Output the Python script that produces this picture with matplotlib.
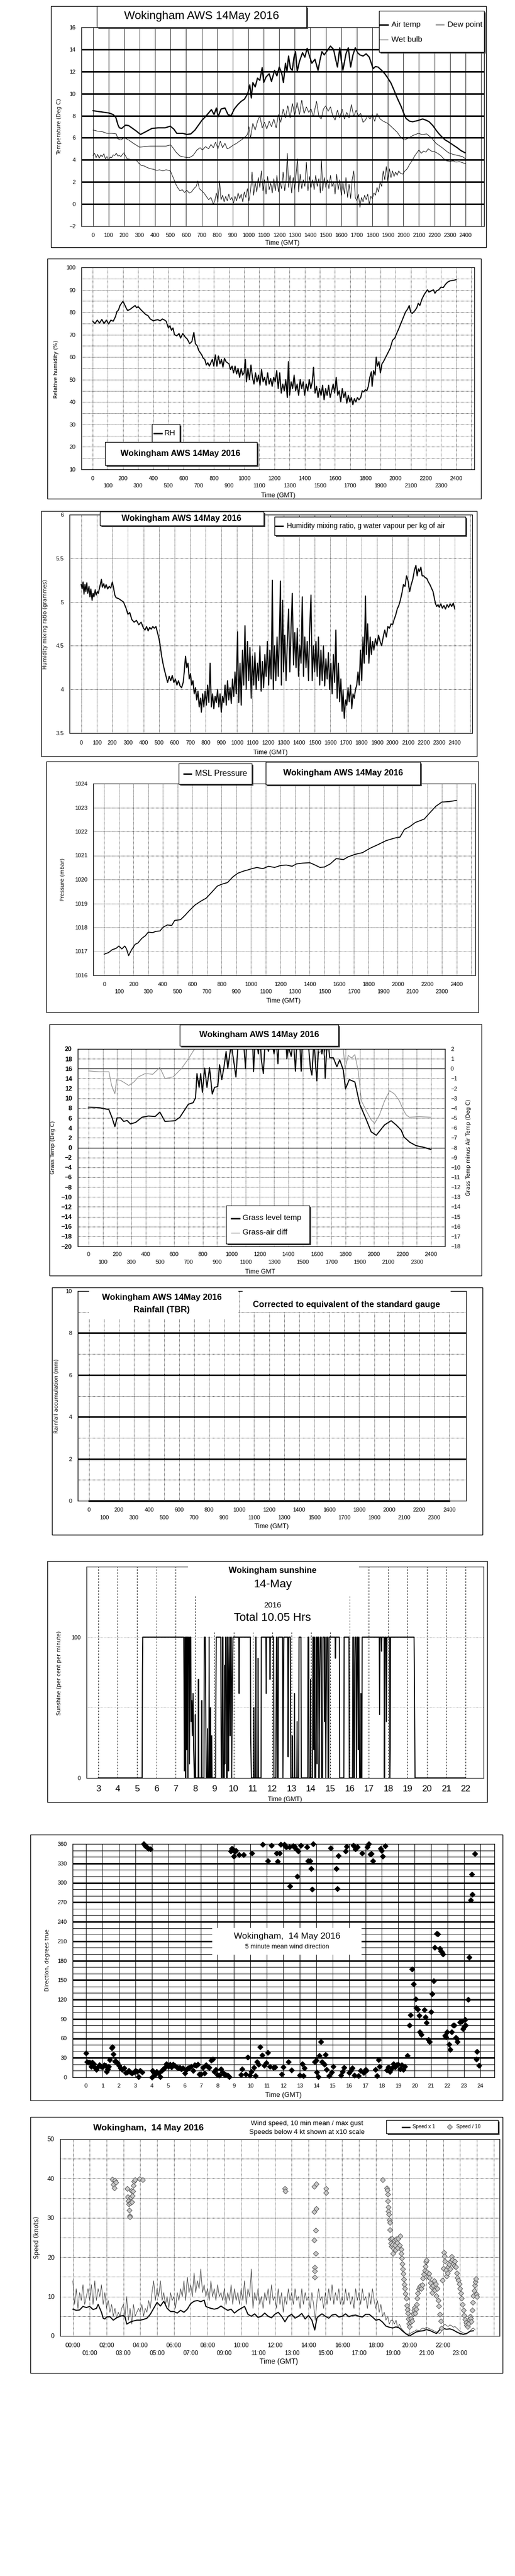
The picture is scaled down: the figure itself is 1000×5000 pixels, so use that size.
#!/usr/bin/env python3
"""Wokingham AWS daily charts, 14 May 2016 (nine stacked panels)."""

import numpy as np
import matplotlib.pyplot as plt
from matplotlib.patches import Rectangle
from matplotlib.lines import Line2D

plt.rcParams['font.family'] = ['Liberation Sans', 'DejaVu Sans']

# ---------------------------------------------------------------- data
# (hour, value) pairs
AIR_TEMP = [
    (0.0, 8.45), (0.5, 8.35), (1.04, 8.24), (1.3, 8.1), (1.47, 7.85), (1.6, 7.2), (1.7, 6.9),
    (1.85, 6.85), (2.1, 7.15), (2.3, 7.1), (2.5, 6.9), (2.8, 6.6), (3.06, 6.3), (3.4, 6.55),
    (3.8, 6.85), (4.2, 6.9), (4.65, 6.9), (4.97, 7.05), (5.2, 6.8), (5.4, 6.4), (5.8, 6.4),
    (6.04, 6.3), (6.3, 6.35), (6.57, 6.7), (7.0, 7.55), (7.3, 8.0), (7.63, 8.55), (7.8, 8.1),
    (7.95, 8.7), (8.06, 7.9), (8.25, 8.6), (8.5, 8.7), (8.7, 8.1), (8.9, 8.0), (9.1, 8.6),
    (9.33, 9.0), (9.55, 9.3), (9.76, 9.5), (9.97, 10.0), (10.1, 10.8), (10.2, 9.6), (10.3, 11.0),
    (10.45, 10.6), (10.6, 11.4), (10.75, 11.2), (10.9, 12.35), (11.0, 11.0), (11.15, 11.5),
    (11.35, 11.8), (11.5, 11.1), (11.7, 12.1), (11.85, 11.6), (12.0, 12.4), (12.15, 11.9),
    (12.27, 11.0), (12.4, 12.75), (12.5, 12.0), (12.6, 13.4), (12.72, 12.3), (12.84, 12.1),
    (12.95, 13.3), (13.05, 13.8), (13.16, 12.0), (13.3, 12.9), (13.5, 13.7), (13.65, 13.3),
    (13.8, 14.1), (13.95, 13.4), (14.1, 12.75), (14.3, 13.1), (14.5, 12.1), (14.62, 13.0),
    (14.75, 13.8), (14.9, 13.5), (15.1, 13.9), (15.3, 14.3), (15.5, 14.0), (15.62, 13.2),
    (15.75, 12.4), (15.9, 14.15), (16.0, 13.0), (16.1, 12.1), (16.3, 13.6), (16.45, 14.15),
    (16.6, 12.4), (16.75, 13.5), (16.9, 14.15), (17.05, 13.7), (17.2, 13.5), (17.4, 13.4),
    (17.6, 13.6), (17.8, 13.3), (18.05, 12.25), (18.2, 12.45), (18.37, 12.4), (18.6, 12.1),
    (18.8, 11.8), (19.0, 11.4), (19.2, 10.95), (19.4, 10.3), (19.54, 9.8), (19.7, 9.3),
    (19.85, 8.85), (20.0, 8.3), (20.17, 7.75), (20.4, 7.5), (20.6, 7.45), (20.9, 7.55),
    (21.24, 7.7), (21.45, 7.6), (21.66, 7.45), (21.9, 7.1), (22.1, 6.7), (22.3, 6.35),
    (22.5, 6.05), (22.7, 5.8), (22.94, 5.6), (23.2, 5.35), (23.47, 5.1), (23.7, 4.85), (23.96, 4.65),
]

WET_BULB = [
    (0.0, 6.7), (0.3, 6.6), (0.6, 6.55), (0.9, 6.4), (1.2, 6.4), (1.5, 6.35), (1.6, 5.9),
    (1.8, 5.8), (2.0, 6.0), (2.3, 5.8), (2.6, 5.5), (3.0, 5.15), (3.3, 5.2), (3.7, 5.25),
    (4.2, 5.25), (4.7, 5.25), (5.0, 5.35), (5.15, 5.1), (5.35, 4.7), (5.6, 4.35), (5.9, 4.25),
    (6.2, 4.2), (6.45, 4.4), (6.7, 4.9), (6.9, 5.1), (7.05, 4.9), (7.25, 5.2), (7.45, 5.0),
    (7.6, 5.4), (7.75, 5.1), (7.9, 5.6), (8.05, 5.0), (8.2, 5.7), (8.35, 5.1), (8.5, 5.5),
    (8.65, 5.0), (8.8, 5.1), (9.0, 5.3), (9.25, 5.5), (9.5, 5.75), (9.75, 6.0), (9.95, 6.3),
    (10.05, 7.0), (10.15, 6.0), (10.3, 7.3), (10.45, 6.7), (10.6, 7.5), (10.75, 8.0), (10.9, 6.9),
    (11.05, 7.4), (11.2, 6.8), (11.35, 7.5), (11.5, 7.0), (11.65, 7.7), (11.8, 6.9), (11.95, 8.1),
    (12.1, 7.4), (12.25, 8.6), (12.4, 7.8), (12.55, 8.9), (12.7, 7.8), (12.85, 9.1), (13.0, 8.0),
    (13.15, 9.2), (13.3, 8.1), (13.45, 9.4), (13.6, 8.2), (13.75, 8.8), (13.9, 8.3), (14.05, 8.6),
    (14.2, 7.9), (14.4, 9.3), (14.55, 8.0), (14.7, 7.7), (14.85, 8.6), (15.0, 8.9), (15.15, 8.4),
    (15.3, 8.8), (15.45, 8.0), (15.6, 7.6), (15.75, 8.5), (15.9, 7.8), (16.05, 8.6), (16.2, 7.7),
    (16.35, 8.3), (16.5, 7.8), (16.65, 9.0), (16.8, 7.9), (16.95, 8.5), (17.1, 8.0), (17.25, 8.2),
    (17.4, 7.4), (17.55, 7.6), (17.7, 8.0), (17.85, 7.7), (18.0, 8.1), (18.15, 7.5), (18.3, 8.2),
    (18.5, 7.7), (18.7, 7.5), (19.0, 7.3), (19.3, 6.9), (19.6, 6.5), (19.85, 6.0), (20.07, 5.8),
    (20.3, 5.95), (20.6, 6.2), (20.96, 6.4), (21.2, 6.3), (21.5, 6.35), (21.8, 6.0), (22.1, 5.5),
    (22.5, 5.1), (22.9, 4.65), (23.2, 4.5), (23.5, 4.4), (23.8, 4.3), (24.0, 4.1),
]

DEW_POINT = [
    (0.0, 4.4), (0.1, 4.6), (0.2, 4.2), (0.3, 4.5), (0.4, 4.15), (0.5, 4.45), (0.6, 4.3),
    (0.7, 4.55), (0.8, 4.1), (0.9, 4.3), (1.0, 4.0), (1.1, 4.25), (1.2, 4.2), (1.3, 4.45),
    (1.4, 4.4), (1.5, 4.6), (1.6, 4.35), (1.7, 4.4), (1.8, 4.3), (1.9, 4.5), (2.0, 4.65),
    (2.1, 4.35), (2.2, 4.1), (2.4, 4.05), (2.6, 4.0), (2.8, 3.95), (2.95, 3.7), (3.1, 3.5),
    (3.3, 3.45), (3.5, 3.3), (3.7, 3.2), (3.9, 3.15), (4.1, 3.05), (4.3, 3.1), (4.5, 3.0),
    (4.7, 3.1), (4.9, 3.05), (5.0, 2.95), (5.1, 2.6), (5.2, 2.3), (5.3, 1.9), (5.45, 1.5),
    (5.6, 1.2), (5.75, 1.3), (5.9, 1.05), (6.05, 1.25), (6.2, 1.0), (6.35, 1.1), (6.5, 1.4),
    (6.65, 1.6), (6.75, 2.1), (6.85, 1.4), (7.0, 1.2), (7.15, 1.0), (7.3, 0.7), (7.45, 0.4),
    (7.6, 0.6), (7.75, 0.0), (7.85, 0.3), (7.95, 1.0), (8.05, 0.2), (8.15, 2.1), (8.25, 0.4),
    (8.35, 0.8), (8.45, 0.2), (8.55, 0.7), (8.65, 0.3), (8.75, 0.9), (8.85, 0.4), (8.95, 0.6),
    (9.05, 0.1), (9.15, 0.7), (9.25, 0.3), (9.35, 1.0), (9.45, 0.5), (9.55, 0.9), (9.65, 0.2),
    (9.75, 1.1), (9.85, 0.6), (9.95, 1.4), (10.05, 0.3), (10.15, 1.2), (10.25, 2.9), (10.35, 0.8),
    (10.45, 2.0), (10.55, 1.1), (10.65, 2.4), (10.75, 1.5), (10.85, 3.0), (10.95, 1.2), (11.05, 2.2),
    (11.15, 0.9), (11.25, 2.5), (11.35, 1.3), (11.45, 1.9), (11.55, 1.0), (11.65, 2.3), (11.75, 1.2),
    (11.85, 2.6), (11.95, 1.1), (12.05, 2.0), (12.15, 1.4), (12.25, 2.9), (12.35, 1.2), (12.45, 2.2),
    (12.52, 4.6), (12.6, 1.5), (12.7, 2.6), (12.8, 1.0), (12.9, 2.4), (13.0, 1.3), (13.1, 3.0),
    (13.18, 4.1), (13.25, 1.1), (13.35, 2.7), (13.45, 1.4), (13.55, 2.2), (13.65, 1.6), (13.75, 3.8),
    (13.85, 1.2), (13.95, 2.5), (14.05, 1.5), (14.15, 2.2), (14.25, 1.3), (14.35, 2.6), (14.45, 1.6),
    (14.55, 2.3), (14.65, 1.0), (14.72, 4.0), (14.8, 1.2), (14.9, 2.4), (15.0, 1.5), (15.1, 2.2),
    (15.2, 1.4), (15.3, 2.6), (15.4, 1.6), (15.5, 2.0), (15.6, 0.9), (15.7, 2.7), (15.8, 1.3),
    (15.9, 2.2), (16.0, 0.8), (16.1, 2.0), (16.2, 0.9), (16.3, 2.4), (16.4, 0.6), (16.5, 1.8),
    (16.6, 0.5), (16.7, 2.2), (16.8, 3.0), (16.9, 0.6), (17.0, 0.3), (17.1, 0.9), (17.2, -0.3),
    (17.3, 0.6), (17.4, 0.2), (17.5, 0.8), (17.6, 0.4), (17.7, 0.9), (17.8, 0.0), (17.9, 0.7),
    (18.0, 0.5), (18.1, 1.0), (18.2, 0.8), (18.3, 1.5), (18.4, 1.1), (18.5, 2.0), (18.6, 1.6),
    (18.7, 3.0), (18.8, 2.2), (18.9, 3.4), (19.0, 2.0), (19.1, 3.2), (19.2, 2.4), (19.3, 3.0),
    (19.4, 2.5), (19.5, 2.9), (19.6, 2.6), (19.7, 3.0), (19.8, 2.8), (19.95, 2.7), (20.1, 3.0),
    (20.25, 3.2), (20.4, 3.6), (20.55, 3.9), (20.7, 4.3), (20.85, 4.6), (21.0, 4.9), (21.15, 4.6),
    (21.3, 4.8), (21.45, 4.7), (21.6, 5.0), (21.8, 4.8), (22.0, 4.75), (22.2, 4.6), (22.4, 4.4),
    (22.6, 4.1), (22.8, 3.9), (23.0, 3.85), (23.2, 3.9), (23.4, 3.8), (23.6, 3.85), (23.8, 3.75),
    (24.0, 3.65),
]

RH = [
    (0.0, 76), (0.15, 75), (0.3, 76.5), (0.45, 75.2), (0.6, 76.8), (0.75, 75), (0.9, 76.5),
    (1.05, 74.8), (1.2, 76.5), (1.35, 76), (1.5, 78), (1.6, 80.3), (1.7, 81), (1.8, 83),
    (1.9, 84), (2.0, 84.9), (2.1, 83.5), (2.2, 82), (2.3, 80.8), (2.45, 81.2), (2.6, 82),
    (2.8, 83), (2.9, 82), (3.0, 82.5), (3.2, 81), (3.35, 80), (3.5, 79), (3.65, 78.5),
    (3.8, 77), (4.0, 76.2), (4.15, 76.5), (4.3, 76.7), (4.45, 76.2), (4.6, 77), (4.75, 76.5),
    (4.85, 76), (5.0, 73), (5.1, 74), (5.2, 72), (5.3, 73), (5.4, 70), (5.55, 69.5), (5.7, 70.5),
    (5.8, 68.5), (5.95, 70.5), (6.1, 69), (6.25, 68), (6.4, 66), (6.55, 67), (6.68, 71),
    (6.78, 66), (6.9, 65), (7.0, 63), (7.1, 62), (7.2, 61), (7.3, 59.5), (7.4, 59), (7.5, 56.5),
    (7.6, 57.5), (7.7, 56), (7.8, 57.5), (7.9, 59), (8.0, 56), (8.1, 61), (8.2, 56), (8.3, 60.5),
    (8.4, 57), (8.5, 59), (8.6, 55.5), (8.7, 59.5), (8.8, 58), (8.9, 57.5), (9.0, 57),
    (9.1, 54.5), (9.2, 56), (9.3, 53), (9.4, 56), (9.5, 52.5), (9.6, 55), (9.7, 51),
    (9.8, 55), (9.9, 52), (10.0, 53), (10.08, 59), (10.15, 49), (10.25, 55), (10.35, 50),
    (10.45, 56.5), (10.55, 51), (10.65, 48), (10.75, 53), (10.85, 49), (10.95, 52),
    (11.05, 47.5), (11.15, 54.5), (11.25, 49), (11.35, 51), (11.45, 47.5), (11.55, 53),
    (11.65, 48), (11.75, 50.5), (11.85, 47), (11.95, 51), (12.05, 49), (12.15, 54),
    (12.25, 46), (12.35, 53), (12.45, 44), (12.55, 48), (12.65, 45), (12.75, 50), (12.85, 42),
    (12.92, 58), (13.0, 43), (13.1, 49), (13.2, 46), (13.3, 52), (13.4, 45), (13.5, 48),
    (13.6, 43), (13.7, 50), (13.8, 46), (13.9, 49), (14.0, 43), (14.1, 48), (14.2, 45),
    (14.3, 50), (14.4, 46), (14.5, 49), (14.58, 55.5), (14.68, 44), (14.78, 47), (14.88, 42),
    (14.98, 46), (15.08, 43), (15.18, 47.5), (15.28, 41), (15.38, 46), (15.48, 43),
    (15.58, 47.5), (15.68, 42), (15.78, 45), (15.88, 48), (15.98, 44), (16.08, 51),
    (16.18, 43), (16.28, 45), (16.38, 40), (16.48, 46), (16.58, 42), (16.68, 44.5),
    (16.78, 39.5), (16.88, 43), (16.98, 40), (17.08, 42), (17.18, 38.8), (17.28, 41.5),
    (17.38, 40), (17.48, 42), (17.58, 41), (17.7, 42), (17.8, 45), (17.9, 44.5), (18.0, 45.5),
    (18.1, 45), (18.2, 47), (18.3, 51), (18.4, 53.5), (18.45, 47), (18.55, 54), (18.65, 52),
    (18.72, 60), (18.8, 56), (18.9, 58), (19.0, 53), (19.1, 57), (19.2, 58), (19.35, 60),
    (19.5, 62), (19.65, 64), (19.8, 67.5), (19.95, 68.5), (20.1, 71), (20.2, 72.5), (20.35, 75),
    (20.5, 77.5), (20.65, 80), (20.8, 81.5), (20.9, 83), (21.0, 80), (21.1, 79.5), (21.25, 80.5),
    (21.4, 82), (21.5, 84), (21.6, 83), (21.75, 86), (21.9, 88), (22.0, 89), (22.1, 90),
    (22.2, 89), (22.35, 89.5), (22.5, 90), (22.6, 88.5), (22.7, 89.5), (22.85, 90),
    (23.0, 91.2), (23.15, 91), (23.3, 92.5), (23.45, 93.5), (23.6, 94), (23.8, 94.2), (24.0, 94.5),
]

MIXING = [
    (0.0, 5.2), (0.06, 5.15), (0.12, 5.23), (0.18, 5.09), (0.24, 5.2), (0.3, 5.12), (0.36, 5.22),
    (0.42, 5.1), (0.5, 5.18), (0.56, 5.06), (0.62, 5.15), (0.7, 5.02), (0.76, 5.1), (0.82, 5.06),
    (0.9, 5.14), (0.96, 5.08), (1.04, 5.12), (1.1, 5.1), (1.2, 5.18), (1.3, 5.26), (1.36, 5.17),
    (1.45, 5.21), (1.52, 5.16), (1.6, 5.2), (1.7, 5.15), (1.8, 5.18), (1.9, 5.16), (2.0, 5.23),
    (2.08, 5.16), (2.16, 5.08), (2.24, 5.05), (2.4, 5.04), (2.56, 5.02), (2.72, 5.0),
    (2.88, 4.93), (3.0, 4.86), (3.12, 4.88), (3.25, 4.8), (3.4, 4.77), (3.55, 4.79), (3.7, 4.74),
    (3.85, 4.77), (4.0, 4.7), (4.1, 4.68), (4.2, 4.72), (4.3, 4.67), (4.4, 4.71), (4.5, 4.69),
    (4.6, 4.72), (4.7, 4.7), (4.8, 4.72), (4.9, 4.65), (5.0, 4.58), (5.08, 4.5), (5.15, 4.4),
    (5.25, 4.3), (5.35, 4.22), (5.45, 4.15), (5.55, 4.08), (5.65, 4.15), (5.75, 4.1),
    (5.85, 4.16), (5.95, 4.08), (6.05, 4.12), (6.15, 4.05), (6.25, 4.1), (6.35, 4.04),
    (6.45, 4.02), (6.55, 4.08), (6.62, 4.2), (6.7, 4.38), (6.78, 4.25), (6.86, 4.3),
    (6.94, 4.12), (7.02, 4.18), (7.1, 4.05), (7.18, 4.1), (7.26, 3.95), (7.34, 4.02),
    (7.42, 3.88), (7.5, 3.98), (7.58, 3.8), (7.66, 3.9), (7.72, 3.74), (7.8, 3.95),
    (7.88, 3.8), (7.96, 3.98), (8.04, 3.82), (8.12, 4.05), (8.2, 3.85), (8.28, 4.3),
    (8.36, 3.8), (8.44, 3.95), (8.52, 3.78), (8.6, 3.92), (8.68, 3.85), (8.76, 4.0),
    (8.84, 3.8), (8.92, 3.95), (9.0, 3.74), (9.08, 3.92), (9.16, 3.85), (9.24, 4.05),
    (9.32, 3.82), (9.4, 4.1), (9.48, 3.88), (9.56, 4.02), (9.64, 3.84), (9.72, 4.12),
    (9.8, 3.92), (9.88, 4.2), (9.96, 3.95), (10.04, 4.66), (10.12, 3.85), (10.2, 4.3),
    (10.28, 3.82), (10.36, 4.45), (10.44, 4.05), (10.52, 4.73), (10.6, 4.0), (10.68, 4.55),
    (10.76, 4.1), (10.84, 4.48), (10.92, 3.9), (11.0, 4.38), (11.08, 4.05), (11.16, 4.42),
    (11.24, 4.0), (11.32, 4.3), (11.4, 4.1), (11.48, 4.5), (11.56, 3.98), (11.64, 4.32),
    (11.72, 4.02), (11.8, 4.4), (11.88, 4.15), (11.96, 4.55), (12.04, 4.05), (12.12, 4.45),
    (12.2, 4.12), (12.28, 5.25), (12.34, 4.0), (12.42, 4.5), (12.5, 4.1), (12.58, 4.6),
    (12.66, 4.15), (12.74, 4.7), (12.8, 5.24), (12.86, 4.05), (12.94, 5.02), (13.0, 4.2),
    (13.08, 4.62), (13.16, 4.1), (13.24, 4.55), (13.32, 4.92), (13.4, 4.2), (13.48, 4.7),
    (13.56, 5.1), (13.64, 4.28), (13.72, 4.65), (13.8, 4.25), (13.88, 4.7), (13.96, 4.15),
    (14.04, 4.5), (14.12, 4.3), (14.2, 5.06), (14.28, 4.15), (14.36, 4.6), (14.44, 4.25),
    (14.52, 4.55), (14.6, 4.1), (14.68, 4.7), (14.76, 5.08), (14.84, 4.1), (14.92, 4.5),
    (15.0, 4.2), (15.08, 4.55), (15.16, 4.15), (15.24, 4.6), (15.32, 4.05), (15.4, 4.45),
    (15.48, 4.1), (15.56, 4.5), (15.64, 4.04), (15.72, 4.35), (15.8, 4.12), (15.88, 4.42),
    (15.96, 4.0), (16.04, 4.3), (16.12, 3.95), (16.2, 4.4), (16.28, 4.08), (16.36, 4.68),
    (16.44, 3.9), (16.52, 4.3), (16.6, 3.86), (16.68, 4.12), (16.76, 3.75), (16.82, 4.0),
    (16.9, 3.67), (16.98, 3.88), (17.06, 3.82), (17.14, 4.02), (17.22, 3.86), (17.3, 4.05),
    (17.38, 3.78), (17.46, 3.95), (17.54, 3.9), (17.62, 4.0), (17.7, 4.05), (17.78, 4.2),
    (17.86, 4.05), (17.94, 4.45), (18.02, 4.1), (18.1, 4.6), (18.18, 4.3), (18.26, 5.07),
    (18.32, 4.4), (18.4, 4.75), (18.48, 4.3), (18.56, 4.6), (18.64, 4.4), (18.72, 4.55),
    (18.8, 4.45), (18.9, 4.58), (19.0, 4.5), (19.1, 4.62), (19.2, 4.55), (19.3, 4.5),
    (19.4, 4.6), (19.5, 4.68), (19.6, 4.6), (19.7, 4.72), (19.8, 4.7), (19.9, 4.75),
    (20.0, 4.74), (20.1, 4.8), (20.2, 4.85), (20.3, 4.92), (20.4, 4.96), (20.5, 5.02),
    (20.6, 5.1), (20.7, 5.2), (20.8, 5.18), (20.9, 5.3), (21.0, 5.24), (21.1, 5.12),
    (21.2, 5.2), (21.3, 5.26), (21.4, 5.36), (21.5, 5.42), (21.58, 5.3), (21.66, 5.38),
    (21.74, 5.35), (21.82, 5.4), (21.9, 5.3), (22.0, 5.3), (22.1, 5.28), (22.2, 5.27),
    (22.3, 5.23), (22.4, 5.2), (22.5, 5.16), (22.6, 5.12), (22.68, 5.05), (22.76, 4.98),
    (22.84, 4.95), (22.92, 4.97), (23.0, 4.94), (23.1, 4.98), (23.2, 4.93), (23.3, 4.96),
    (23.4, 4.92), (23.5, 4.97), (23.6, 4.94), (23.7, 4.98), (23.8, 4.95), (23.9, 4.99), (24.0, 4.92),
]

PRESSURE = [
    (0.0, 1016.88), (0.3, 1016.95), (0.55, 1017.07), (0.8, 1017.12), (1.0, 1017.22),
    (1.2, 1017.1), (1.4, 1017.22), (1.52, 1017.1), (1.66, 1016.82), (1.85, 1017.05),
    (2.1, 1017.29), (2.3, 1017.35), (2.56, 1017.54), (2.8, 1017.65), (3.0, 1017.8),
    (3.3, 1017.78), (3.5, 1017.83), (3.8, 1017.85), (4.0, 1018.0), (4.3, 1018.1),
    (4.6, 1018.08), (4.8, 1018.29), (5.2, 1018.32), (5.5, 1018.5), (5.8, 1018.7),
    (6.2, 1018.94), (6.6, 1019.1), (6.95, 1019.22), (7.3, 1019.45), (7.7, 1019.72),
    (8.0, 1019.8), (8.4, 1019.87), (8.75, 1020.1), (9.1, 1020.26), (9.5, 1020.35),
    (9.8, 1020.4), (10.0, 1020.44), (10.4, 1020.5), (10.8, 1020.45), (11.2, 1020.55),
    (11.6, 1020.5), (12.0, 1020.58), (12.4, 1020.6), (12.8, 1020.55), (13.1, 1020.65),
    (13.5, 1020.68), (14.0, 1020.7), (14.3, 1020.62), (14.7, 1020.5), (15.0, 1020.52),
    (15.4, 1020.65), (15.8, 1020.87), (16.3, 1020.83), (16.6, 1020.94), (17.1, 1021.05),
    (17.6, 1021.12), (18.1, 1021.3), (18.6, 1021.44), (19.2, 1021.62), (19.8, 1021.73),
    (20.15, 1021.77), (20.45, 1022.09), (20.8, 1022.2), (21.2, 1022.38), (21.8, 1022.52),
    (22.1, 1022.73), (22.6, 1023.06), (23.0, 1023.23), (23.5, 1023.25), (24.0, 1023.3),
]

GRASS_TEMP = [
    (0.0, 8.2), (0.74, 8.1), (1.43, 7.7), (1.66, 6.0), (1.85, 4.25), (2.0, 6.0), (2.24, 6.05),
    (2.47, 5.3), (2.7, 5.5), (2.94, 4.8), (3.3, 5.1), (3.75, 6.15), (4.2, 6.4), (4.67, 6.3),
    (5.0, 7.2), (5.36, 5.3), (6.06, 5.45), (6.4, 6.15), (7.0, 8.8), (7.33, 9.1), (7.5, 10.1),
    (7.6, 15.0), (7.75, 12.2), (7.86, 15.0), (7.98, 11.2), (8.14, 16.1), (8.3, 12.2),
    (8.48, 16.2), (8.67, 10.85), (8.83, 12.2), (9.06, 12.4), (9.18, 16.8), (9.34, 13.8),
    (9.5, 16.5), (9.64, 19.5), (9.76, 16.1), (10.0, 21), (10.2, 17), (10.33, 14.3),
    (10.5, 22), (10.8, 24), (11.0, 16.1), (11.1, 23), (11.3, 21), (11.5, 22), (11.56, 15.4),
    (11.7, 23), (11.9, 19), (12.0, 24), (12.1, 18), (12.25, 15.0), (12.4, 23), (12.6, 19.5),
    (12.8, 22), (13.0, 19), (13.15, 22), (13.27, 17.0), (13.4, 24), (13.6, 25), (13.8, 23),
    (13.9, 18), (14.0, 20.5), (14.2, 18.5), (14.35, 22), (14.5, 15.5), (14.6, 22), (14.8, 21),
    (14.9, 15.5), (15.0, 23), (15.2, 24), (15.4, 21), (15.55, 16), (15.65, 14.7), (15.8, 22),
    (15.9, 17), (16.0, 13.5), (16.1, 19.5), (16.2, 23), (16.35, 19), (16.5, 22), (16.58, 14.0),
    (16.7, 20.5), (16.8, 21), (16.9, 18.2), (17.15, 18.2), (17.4, 16.4), (17.6, 17.8),
    (17.85, 15.7), (18.0, 11.9), (18.27, 13.8), (18.66, 13.3), (19.0, 8.8), (19.47, 5.6),
    (19.8, 3.2), (20.16, 2.5), (20.74, 4.6), (21.2, 5.45), (21.55, 4.6), (21.9, 3.55),
    (22.1, 2.15), (22.5, 1.1), (22.94, 0.4), (23.5, 0.05), (24.0, -0.4),
]

GRASS_DIFF = [
    (0.0, -0.23), (0.74, -0.31), (1.43, -0.31), (1.62, -1.7), (1.85, -2.54), (1.97, -1.1),
    (2.24, -1.18), (2.54, -1.44), (2.82, -1.7), (3.17, -1.36), (3.5, -0.83), (3.98, -0.49),
    (4.5, -0.57), (5.0, 0.12), (5.36, -1.0), (5.94, -0.83), (6.52, 0.03), (7.0, 1.0),
    (7.33, 1.77), (7.45, 2.0), (8.0, 3.5), (10.0, 4.5), (12.0, 4.0), (14.0, 4.5), (15.5, 3.5),
    (16.0, 2.1), (16.2, 1.6), (16.4, 2.2), (16.5, 1.3), (16.65, 2.3), (16.8, 1.8), (17.0, 2.6),
    (17.85, 2.0), (17.97, 0.03), (18.2, 1.34), (18.43, 1.08), (18.66, 1.43), (18.9, -0.31),
    (19.12, -3.27), (19.47, -4.3), (19.8, -5.18), (20.05, -5.53), (20.39, -4.66),
    (20.74, -3.27), (21.09, -2.23), (21.44, -2.57), (21.78, -3.27), (22.01, -4.05),
    (22.24, -4.66), (22.47, -4.92), (23.17, -4.87), (24.0, -4.92),
]

RAIN = [(0.0, 0.0), (24.0, 0.0)]

# sunshine: (minute of day, per cent)
SUNSHINE = [
    (180, 0), (316, 0), (317, 76), (318, 100), (445, 100), (446, 70), (447, 5), (449, 100),
    (450, 30), (451, 0), (452, 100), (453, 100), (454, 20), (455, 100), (457, 100), (458, 0),
    (459, 80), (460, 100), (462, 100), (463, 10), (465, 100), (467, 100), (468, 40), (470, 55),
    (472, 30), (474, 60), (476, 20), (478, 0), (480, 0), (481, 45), (482, 0), (490, 0),
    (491, 70), (492, 0), (500, 0), (501, 55), (502, 0), (508, 0), (509, 100), (512, 100),
    (513, 60), (515, 0), (518, 0), (519, 35), (520, 0), (523, 0), (524, 100), (525, 0),
    (527, 0), (528, 50), (529, 0), (531, 0), (532, 30), (533, 0), (544, 0), (545, 60),
    (546, 100), (560, 100), (561, 40), (562, 0), (564, 0), (565, 100), (567, 100), (568, 0),
    (571, 0), (572, 80), (573, 10), (575, 100), (577, 100), (578, 0), (580, 0), (581, 100),
    (583, 100), (584, 5), (586, 70), (588, 100), (589, 30), (591, 100), (593, 100), (594, 0),
    (596, 60), (598, 100), (616, 100), (617, 60), (618, 100), (652, 100), (653, 30), (655, 0),
    (662, 0), (663, 50), (664, 0), (668, 0), (669, 100), (670, 0), (675, 0), (676, 85),
    (677, 0), (685, 0), (686, 100), (700, 100), (701, 60), (702, 100), (712, 100), (713, 70),
    (714, 100), (724, 100), (725, 0), (731, 0), (733, 100), (735, 100), (736, 0), (738, 0),
    (739, 100), (752, 100), (753, 0), (756, 100), (768, 100), (769, 15), (771, 100),
    (776, 100), (777, 0), (781, 0), (782, 30), (783, 0), (788, 0), (789, 60), (790, 0),
    (796, 0), (797, 40), (798, 0), (802, 0), (803, 100), (809, 100), (810, 0), (830, 0),
    (831, 100), (833, 100), (834, 0), (838, 0), (839, 70), (840, 0), (845, 0), (846, 100),
    (848, 100), (849, 20), (851, 100), (852, 0), (855, 0), (856, 100), (858, 100), (859, 10),
    (861, 100), (864, 100), (865, 0), (867, 60), (869, 100), (872, 100), (873, 0), (876, 0),
    (877, 100), (881, 100), (882, 40), (884, 100), (886, 0), (889, 100), (892, 100),
    (893, 0), (895, 0), (896, 100), (915, 100), (916, 85), (917, 100), (928, 100), (929, 0),
    (942, 0), (943, 100), (958, 100), (959, 0), (969, 0), (970, 100), (972, 100), (973, 0),
    (975, 0), (976, 80), (977, 100), (980, 100), (981, 0), (984, 100), (986, 100), (987, 20),
    (989, 100), (991, 0), (994, 0), (995, 60), (996, 0), (998, 0), (999, 100), (1052, 100),
    (1053, 45), (1054, 100), (1058, 100), (1059, 90), (1060, 100), (1067, 100), (1068, 0),
    (1070, 100), (1073, 100), (1074, 40), (1076, 100), (1084, 100), (1085, 0), (1086, 20),
    (1087, 100), (1160, 100), (1161, 80), (1163, 0), (1320, 0),
]

WIND_DIR = [
    (0.0, 37), (0.05, 24), (0.12, 23), (0.2, 23), (0.3, 17), (0.38, 23), (0.45, 21), (0.55, 14),
    (0.62, 12), (0.7, 15), (0.8, 19), (0.9, 17), (1.0, 16), (1.1, 19), (1.2, 18), (1.25, 9),
    (1.32, 13), (1.38, 17), (1.45, 27), (1.55, 45), (1.6, 47), (1.67, 36), (1.75, 25), (1.8, 25),
    (1.9, 22), (2.0, 18), (2.1, 14), (2.2, 12), (2.3, 14), (2.4, 7), (2.5, 8), (2.6, 10),
    (2.7, 8), (2.8, 6), (2.9, 8), (3.0, 10), (3.1, 9), (3.2, 1), (3.3, 10), (3.4, 8), (3.5, 360),
    (3.6, 357), (3.7, 355), (3.8, 353), (3.9, 352), (4.0, 0), (4.05, 10), (4.1, 8), (4.2, 4),
    (4.3, 9), (4.4, 6), (4.5, 1), (4.6, 10), (4.7, 13), (4.8, 15), (4.9, 21), (5.0, 17),
    (5.1, 20), (5.2, 16), (5.3, 20), (5.4, 18), (5.5, 16), (5.6, 14), (5.7, 15), (5.8, 13),
    (5.9, 14), (6.0, 6), (6.1, 12), (6.2, 14), (6.3, 15), (6.4, 17), (6.5, 10), (6.6, 19),
    (6.7, 18), (6.8, 20), (6.9, 5), (7.0, 5), (7.1, 15), (7.2, 6), (7.3, 19), (7.4, 17),
    (7.5, 15), (7.6, 26), (7.7, 28), (7.8, 9), (7.9, 12), (8.0, 4), (8.1, 3), (8.2, 13),
    (8.3, 8), (8.4, 5), (8.5, 4), (8.6, 3), (8.7, 1), (8.8, 349), (8.85, 353), (8.92, 352),
    (9.0, 341), (9.05, 348), (9.12, 350), (9.3, 343), (9.44, 4), (9.5, 13), (9.58, 343),
    (9.7, 5), (9.84, 31), (9.95, 3), (10.05, 9), (10.1, 346), (10.2, 15), (10.3, 2), (10.4, 24),
    (10.5, 20), (10.6, 47), (10.7, 34), (10.76, 359), (10.85, 18), (10.95, 22), (11.05, 38),
    (11.07, 334), (11.18, 17), (11.29, 358), (11.4, 15), (11.5, 16), (11.59, 346), (11.65, 333),
    (11.78, 346), (11.85, 359), (11.9, 5), (12.0, 16), (12.05, 359), (12.12, 356), (12.2, 355),
    (12.3, 24), (12.38, 355), (12.41, 295), (12.5, 11), (12.6, 357), (12.68, 356), (12.75, 353),
    (12.85, 310), (12.92, 349), (13.0, 3), (13.05, 358), (13.15, 21), (13.22, 2), (13.3, 14),
    (13.45, 355), (13.5, 334), (13.63, 334), (13.7, 322), (13.76, 290), (13.82, 360),
    (13.9, 24), (14.0, 26), (14.05, 8), (14.12, 1), (14.2, 33), (14.3, 55), (14.35, 24),
    (14.42, 22), (14.5, 20), (14.56, 35), (14.62, 12), (14.8, 2), (14.88, 354), (14.95, 8),
    (15.05, 17), (15.22, 322), (15.28, 291), (15.36, 342), (15.5, 3), (15.6, 9), (15.7, 15),
    (15.8, 349), (15.86, 356), (16.0, 7), (16.1, 10), (16.2, 14), (16.27, 358), (16.32, 3),
    (16.4, 352), (16.5, 355), (16.56, 2), (16.7, 10), (16.8, 346), (16.9, 7), (17.0, 12),
    (17.06, 10), (17.1, 355), (17.2, 360), (17.3, 344), (17.36, 345), (17.45, 334), (17.6, 12),
    (17.7, 2), (17.8, 27), (17.86, 17), (17.92, 353), (18.0, 350), (18.05, 341), (18.2, 357),
    (18.3, 11), (18.4, 16), (18.5, 9), (18.6, 14), (18.7, 21), (18.8, 16), (18.9, 19),
    (19.0, 20), (19.1, 13), (19.2, 19), (19.3, 12), (19.4, 17), (19.54, 33), (19.68, 80),
    (19.74, 96), (19.82, 167), (19.92, 144), (20.04, 121), (20.08, 107), (20.18, 105),
    (20.28, 95), (20.32, 70), (20.4, 66), (20.58, 104), (20.64, 93), (20.72, 84), (20.84, 58),
    (20.9, 55), (20.98, 101), (21.06, 129), (21.14, 149), (21.22, 200), (21.35, 222),
    (21.4, 221), (21.52, 199), (21.6, 195), (21.66, 193), (21.72, 190), (21.84, 64),
    (21.9, 62), (21.98, 70), (22.08, 51), (22.15, 43), (22.25, 70), (22.33, 80), (22.4, 80),
    (22.5, 61), (22.55, 60), (22.6, 55), (22.75, 85), (22.83, 86), (22.93, 75), (23.0, 78),
    (23.06, 89), (23.1, 80), (23.24, 120), (23.3, 185), (23.4, 273), (23.46, 313), (23.5, 282),
    (23.65, 345), (23.75, 28), (23.8, 40), (23.9, 18),
]

# 10 minute mean wind speed (knots)
WIND_MEAN = [
    (0.0, 6.8), (0.2, 6.5), (0.4, 6.6), (0.6, 7.5), (0.8, 7.2), (1.0, 7.5), (1.2, 6.7),
    (1.4, 7.0), (1.5, 8.0), (1.6, 7.0), (1.7, 6.0), (1.8, 4.5), (1.9, 4.3), (2.0, 4.8),
    (2.2, 4.9), (2.4, 4.0), (2.6, 4.6), (2.8, 5.0), (3.0, 5.2), (3.1, 4.8), (3.2, 3.0),
    (3.4, 3.5), (3.6, 3.8), (3.8, 4.0), (4.0, 4.0), (4.2, 4.2), (4.4, 4.5), (4.6, 5.5),
    (4.8, 7.0), (5.0, 8.5), (5.2, 7.6), (5.4, 8.8), (5.6, 7.0), (5.8, 6.2), (6.0, 6.2),
    (6.2, 5.8), (6.4, 6.5), (6.6, 6.0), (6.8, 6.8), (7.0, 8.2), (7.2, 8.8), (7.4, 9.0),
    (7.6, 8.7), (7.8, 9.1), (7.9, 7.5), (8.0, 7.3), (8.2, 7.0), (8.4, 6.8), (8.6, 7.0),
    (8.8, 7.6), (9.0, 7.0), (9.2, 6.5), (9.4, 6.8), (9.6, 5.8), (9.8, 6.5), (10.0, 7.0),
    (10.2, 7.5), (10.4, 5.5), (10.6, 5.0), (10.8, 5.6), (11.0, 4.7), (11.2, 5.0), (11.4, 5.8),
    (11.6, 5.0), (11.8, 4.6), (12.0, 5.5), (12.2, 6.0), (12.4, 5.0), (12.6, 3.6), (12.8, 5.0),
    (13.0, 5.5), (13.2, 4.5), (13.4, 5.0), (13.6, 5.7), (13.8, 4.3), (14.0, 5.2), (14.2, 4.0),
    (14.37, 1.5), (14.5, 4.5), (14.6, 5.0), (14.8, 5.6), (15.0, 5.0), (15.2, 4.5), (15.4, 5.3),
    (15.6, 5.5), (15.8, 4.8), (16.0, 5.0), (16.2, 5.6), (16.4, 4.9), (16.6, 5.2), (16.8, 5.3),
    (17.0, 5.0), (17.2, 4.8), (17.4, 5.5), (17.6, 5.5), (17.8, 4.8), (18.0, 4.0), (18.2, 4.2),
    (18.4, 3.5), (18.6, 2.5), (18.8, 2.2), (19.0, 2.0), (19.2, 2.3), (19.4, 2.0), (19.6, 1.2),
    (19.8, 0.5), (20.0, 0.0), (20.2, 0.5), (20.4, 1.0), (20.6, 1.2), (20.8, 1.3), (21.0, 1.6),
    (21.2, 1.4), (21.4, 1.0), (21.6, 0.6), (21.8, 1.6), (22.0, 1.9), (22.2, 1.7), (22.4, 1.8),
    (22.6, 1.5), (22.8, 1.0), (23.0, 0.6), (23.2, 0.4), (23.4, 0.6), (23.6, 1.2), (23.8, 1.3),
]

# max gust, one value every 6 minutes, one row per hour
WIND_GUST = [
    14, 8, 12, 7, 11, 9, 13, 8, 10, 12,
    9, 13, 8, 14, 9, 12, 10, 13, 8, 11,
    7, 9, 6, 8, 5, 7, 4.5, 6, 5, 7,
    8, 5, 10, 4, 7, 3, 8, 5, 6, 7,
    6, 8, 5, 7, 6, 9, 7, 11, 14, 9,
    12, 10, 14, 9, 11, 8, 10, 7, 11, 9,
    10, 7, 11, 9, 12, 10, 14, 9, 15, 11,
    13, 10, 16, 11, 14, 12, 17, 11, 13, 10,
    12, 9, 14, 10, 12, 9, 13, 10, 11, 9,
    12, 8, 11, 9, 13, 8, 12, 9, 11, 8,
    12, 9, 14, 8, 12, 10, 17, 7, 11, 9,
    12, 8, 10, 7, 11, 9, 12, 8, 13, 9,
    10, 7, 12, 8, 11, 6, 10, 8, 12, 9,
    11, 8, 12, 9, 10, 7, 12, 8, 11, 9,
    10, 7, 11, 8, 4, 9, 12, 9, 10, 7,
    11, 8, 12, 9, 13, 8, 11, 9, 12, 8,
    10, 8, 12, 9, 11, 8, 10, 7, 12, 9,
    11, 8, 12, 9, 10, 7, 11, 8, 12, 9,
    7, 9, 6, 8, 5, 6, 4, 5, 3, 4,
    4, 3, 4, 2, 3, 2, 1.5, 1, 0.5, 0.5,
    0.5, 0.8, 1, 1.2, 1.5, 1.4, 1.3, 1.8, 2, 1.8,
    2.2, 2.0, 1.8, 1.6, 1.4, 1.2, 1.0, 0.8, 0.6, 1.2,
    2.5, 3.0, 2.6, 2.4, 2.8, 2.6, 2.2, 2.4, 2.0, 1.6,
    1.2, 1.0, 0.8, 0.6, 0.7, 0.9, 1.2, 1.8, 2.0, 1.5,
]

# low speeds shown at x10 scale (diamonds)
WIND_X10 = [
    (2.35, 39.8), (2.4, 38.5), (2.45, 37.6), (2.5, 39.5), (2.55, 39.0),
    (3.22, 37.4), (3.26, 35.3), (3.3, 34.3), (3.33, 33.5), (3.36, 32.0), (3.37, 30.5),
    (3.38, 30.2), (3.4, 33.8), (3.44, 35.2), (3.47, 36.9), (3.5, 34.0), (3.53, 35.6),
    (3.56, 36.8), (3.6, 38.2), (3.64, 39.3), (3.68, 39.7), (3.97, 39.9), (4.16, 39.6),
    (12.6, 37.5), (12.61, 36.8),
    (14.33, 38.0), (14.33, 31.5), (14.35, 24.4), (14.36, 17.4), (14.36, 16.5), (14.37, 14.9),
    (14.45, 38.6), (14.45, 32.3), (14.44, 26.8), (14.43, 21.0),
    (15.05, 37.5), (15.05, 36.4),
    (18.4, 39.6), (18.65, 37.6), (18.68, 37.0), (18.7, 36.0), (18.72, 34.3), (18.74, 32.7),
    (18.75, 31.7), (18.77, 30.9), (18.8, 29.4), (18.82, 28.8), (18.84, 27.0), (18.86, 24.6),
    (18.9, 23.6), (18.93, 22.8), (18.96, 24.7), (19.0, 23.2), (19.03, 21.0), (19.06, 22.3),
    (19.1, 24.3), (19.13, 23.0), (19.16, 21.8), (19.2, 24.6), (19.25, 23.7), (19.3, 22.4),
    (19.33, 24.8), (19.4, 23.0), (19.45, 25.4), (19.5, 22.0),
    (19.52, 21.0), (19.55, 19.8), (19.58, 18.3), (19.6, 17.0), (19.63, 15.9), (19.66, 14.4),
    (19.7, 13.1), (19.73, 12.1), (19.76, 10.7), (19.8, 9.6), (19.83, 7.7), (19.86, 6.7),
    (19.9, 5.7), (19.93, 4.3), (19.96, 3.1), (20.0, 2.4),
    (20.05, 3.5), (20.1, 4.5), (20.15, 3.8), (20.2, 5.6), (20.26, 6.5), (20.3, 7.2),
    (20.34, 5.8), (20.38, 6.8), (20.42, 8.0), (20.46, 9.5), (20.5, 10.8), (20.55, 11.9),
    (20.6, 12.4), (20.65, 12.7), (20.7, 12.0), (20.75, 13.0), (20.8, 14.6), (20.85, 15.7),
    (20.9, 16.6), (20.95, 17.7), (20.98, 18.8), (21.0, 19.3), (21.05, 16.2), (21.1, 15.0),
    (21.15, 15.8), (21.2, 14.8), (21.25, 13.5), (21.3, 12.5), (21.35, 11.0), (21.4, 12.8),
    (21.45, 14.0), (21.5, 11.6), (21.55, 13.2), (21.6, 10.2), (21.65, 12.0), (21.7, 9.0),
    (21.75, 7.6), (21.8, 5.5), (21.85, 3.8), (21.9, 2.0),
    (21.96, 14.2), (22.0, 17.2), (22.05, 21.2), (22.08, 20.3), (22.12, 19.0), (22.16, 16.8),
    (22.2, 15.2), (22.25, 16.0), (22.3, 17.5), (22.35, 18.2), (22.4, 17.0), (22.45, 19.0),
    (22.5, 20.2), (22.55, 19.4), (22.6, 18.3), (22.65, 17.8), (22.7, 19.0), (22.75, 17.5),
    (22.8, 16.0), (22.85, 14.8), (22.9, 14.2),
    (22.95, 13.2), (23.0, 12.0), (23.05, 10.8), (23.1, 9.5), (23.15, 8.0), (23.2, 6.6),
    (23.25, 5.2), (23.3, 4.2), (23.35, 3.4), (23.4, 2.8), (23.45, 2.4), (23.5, 3.2),
    (23.55, 4.2), (23.6, 5.0), (23.65, 4.4), (23.68, 3.6),
    (23.72, 6.5), (23.76, 8.5), (23.8, 10.2), (23.84, 11.5), (23.88, 12.8), (23.9, 13.8),
    (23.93, 14.5), (23.96, 10.6), (24.0, 10.0),
]

HHMM_TICKS = list(range(0, 2401, 100))
HOUR_TICKS = list(range(0, 25))
SUN_TICKS = list(range(3, 23))
SPEED_LABELS = ['%02d:00' % h for h in range(24)]

TITLE = 'Wokingham AWS 14May 2016'

# ---------------------------------------------------------------- layout helpers
W, H = 1000, 5000
fig = plt.figure(figsize=(W / 100, H / 100), dpi=100)
fig.patch.set_facecolor('white')


def add_ax(l, t, r, b):
    return fig.add_axes([l / W, 1 - b / H, (r - l) / W, (b - t) / H])


def frame(l, t, r, b):
    fig.add_artist(Rectangle((l / W, 1 - b / H), (r - l) / W, (b - t) / H,
                             transform=fig.transFigure, fill=False, ec='black',
                             lw=1.0, zorder=0))


def box(l, t, r, b, shadow=True, border=True):
    if shadow:
        fig.add_artist(Rectangle(((l + 3) / W, 1 - (b + 3) / H), (r - l) / W, (b - t) / H,
                                 transform=fig.transFigure, fc='#404040', ec='none', zorder=4))
    fig.add_artist(Rectangle((l / W, 1 - b / H), (r - l) / W, (b - t) / H,
                             transform=fig.transFigure, fc='white',
                             ec='black' if border else 'none', lw=0.9, zorder=5))


def ftext(x, y, s, size=9, ha='center', **kw):
    fig.text(x / W, 1 - y / H, s, ha=ha, va='center', fontsize=size, zorder=6, **kw)


def fline(x0, x1, y, **kw):
    fig.add_artist(Line2D([x0 / W, x1 / W], [1 - y / H, 1 - y / H],
                          transform=fig.transFigure, zorder=6, **kw))


def ylab(x, y, s, size=7.5):
    ftext(x, y, s, size=size, rotation=90, family='DejaVu Sans')


def hhmm_axis(ax, two_rows, pad1, pad2=None, right=2520):
    ax.set_xlim(-75, right)
    if two_rows:
        ax.set_xticks(HHMM_TICKS[::2], [str(v) for v in HHMM_TICKS[::2]])
        ax.set_xticks(HHMM_TICKS[1::2], [str(v) for v in HHMM_TICKS[1::2]], minor=True)
        ax.tick_params(axis='x', which='minor', length=0, pad=pad2, labelsize=8)
    else:
        ax.set_xticks(HHMM_TICKS, [str(v) for v in HHMM_TICKS])
    ax.tick_params(axis='x', which='major', length=0, pad=pad1, labelsize=8)
    ax.tick_params(axis='y', length=0, pad=8, labelsize=8)
    for s in ax.spines.values():
        s.set_linewidth(0.9)


DOT = (0, (1, 1.5))


def xy(pairs, scale=1.0):
    a = np.array(pairs, dtype=float)
    return a[:, 0] * scale, a[:, 1]


# ---------------------------------------------------------------- 1. temperatures
frame(99, 12, 944, 480)
ax = add_ax(158, 53, 940, 439)
hhmm_axis(ax, False, 9)
ax.set_ylim(-2, 16)
ax.set_yticks(range(-2, 17, 2))
for v in range(0, 16, 2):
    ax.axhline(v, color='black', lw=2.2, zorder=1)
for v in range(0, 2501, 100):
    ax.axvline(v, color='black', lw=0.6, zorder=1)
t, v = xy(AIR_TEMP, 100)
ax.plot(t, v, color='black', lw=1.7, zorder=3)
t, v = xy(WET_BULB, 100)
ax.plot(t, v, color='black', lw=0.7, zorder=3)
t, v = xy(DEW_POINT, 100)
ax.plot(t, v, color='black', lw=0.7, zorder=3)
box(188, 12, 595, 53)
ftext(391, 32, TITLE, size=16)
box(736, 21, 940, 101)
fline(737, 753, 48, color='black', lw=2)
ftext(760, 48, 'Air temp', size=11, ha='left')
fline(846, 862, 48, color='black', lw=0.8)
ftext(869, 48, 'Dew point', size=11, ha='left')
fline(737, 753, 77, color='black', lw=0.8)
ftext(760, 77, 'Wet bulb', size=11, ha='left')
ylab(115, 246, 'Temperature (Deg C)')
ftext(548, 472, 'Time (GMT)', size=9)

# ---------------------------------------------------------------- 2. relative humidity
frame(92, 502, 934, 968)
ax = add_ax(158, 519, 921, 911)
hhmm_axis(ax, True, 9, 19.5)
ax.set_ylim(10, 100)
ax.set_yticks(range(10, 101, 10))
for v in range(15, 100, 5):
    ax.axhline(v, color='black', lw=0.7, ls=DOT, zorder=1)
for v in range(0, 2501, 100):
    ax.axvline(v, color='black', lw=0.7, ls=DOT, zorder=1)
t, v = xy(RH, 100)
ax.plot(t, v, color='black', lw=1.5, zorder=3)
box(295, 823, 349, 858)
fline(299, 314, 841, color='black', lw=2)
ftext(319, 841, 'RH', size=11, ha='left')
box(204, 858, 499, 903)
ftext(350, 880, TITLE, size=12, weight='bold')
ylab(109, 717, 'Relative humidity (%)')
ftext(540, 962, 'Time (GMT)', size=9)

# ---------------------------------------------------------------- 3. mixing ratio
frame(80, 992, 926, 1468)
ax = add_ax(135, 999, 917, 1423)
hhmm_axis(ax, False, 10, right=2512)
ax.set_ylim(3.5, 6)
ax.set_yticks([3.5, 4, 4.5, 5, 5.5, 6], ['3.5', '4', '4.5', '5', '5.5', '6'])
for v in [4, 4.5, 5, 5.5]:
    ax.axhline(v, color='black', lw=0.7, ls=DOT, zorder=1)
for v in range(0, 2501, 100):
    ax.axvline(v, color='black', lw=0.7, ls=DOT, zorder=1)
t, v = xy(MIXING, 100)
ax.plot(t, v, color='black', lw=1.5, zorder=3)
box(194, 993, 512, 1020)
ftext(352, 1006, TITLE, size=12, weight='bold')
box(533, 1003, 904, 1039)
fline(535, 549, 1021, color='black', lw=2)
ftext(557, 1021, 'Humidity mixing ratio, g water vapour per kg of air', size=10, ha='left')
ylab(88, 1212, 'Humidity mixing ratio (grammes)')
ftext(525, 1461, 'Time (GMT)', size=9)

# ---------------------------------------------------------------- 4. pressure
frame(90, 1478, 929, 1965)
ax = add_ax(181, 1521, 923, 1893)
hhmm_axis(ax, True, 9, 19.5, right=2528)
ax.set_ylim(1016, 1024)
ax.set_yticks(range(1016, 1025))
for v in range(1017, 1024):
    ax.axhline(v, color='black', lw=0.7, ls=DOT, zorder=1)
for v in range(0, 2501, 100):
    ax.axvline(v, color='black', lw=0.7, ls=DOT, zorder=1)
t, v = xy(PRESSURE, 100)
ax.plot(t, v, color='black', lw=1.3, zorder=3)
box(347, 1482, 489, 1522)
fline(357, 371, 1502, color='black', lw=2)
ftext(379, 1502, 'MSL Pressure', size=11.5, ha='left')
box(516, 1479, 816, 1523)
ftext(666, 1500, TITLE, size=12, weight='bold')
ylab(122, 1707, 'Pressure (mbar)')
ftext(550, 1943, 'Time (GMT)', size=9)

# ---------------------------------------------------------------- 5. grass temperature
frame(96, 1988, 935, 2476)
ax = add_ax(151, 2036, 864, 2419)
hhmm_axis(ax, True, 8, 19, right=2497)
ax.set_ylim(-20, 20)
ax.set_yticks(range(-20, 21, 2))
ax.tick_params(axis='y', labelsize=9)
for lab in ax.get_yticklabels():
    lab.set_fontweight('bold')
for v in range(-18, 20, 2):
    if v in (0, 16):
        ax.axhline(v, color='black', lw=1.0, zorder=1)
    else:
        ax.axhline(v, color='black', lw=0.7, ls=DOT, zorder=1)
for v in range(0, 2401, 100):
    ax.axvline(v, color='black', lw=0.7, ls=DOT, zorder=1)
t, v = xy(GRASS_TEMP, 100)
ax.plot(t, v, color='black', lw=1.5, zorder=3)
ax2 = ax.twinx()
ax2.set_ylim(-18, 2)
ax2.set_yticks(range(-18, 3))
ax2.tick_params(axis='y', length=0, pad=8, labelsize=8)
t, v = xy(GRASS_DIFF, 100)
ax2.plot(t, v, color='#8c8c8c', lw=0.9, zorder=2)
box(349, 1989, 657, 2030)
ftext(503, 2009, TITLE, size=12, weight='bold')
box(439, 2340, 601, 2414)
fline(449, 465, 2365, color='black', lw=2)
ftext(471, 2364, 'Grass level temp', size=11, ha='left')
fline(449, 465, 2393, color='#8c8c8c', lw=0.9)
ftext(471, 2392, 'Grass-air diff', size=11, ha='left')
ylab(103, 2227, 'Grass Temp (Deg C)')
ylab(910, 2227, 'Grass Temp minus Air Temp (Deg C)')
ftext(505, 2469, 'Time GMT', size=9)

# ---------------------------------------------------------------- 6. rainfall
frame(101, 2499, 937, 2979)
ax = add_ax(151, 2506, 905, 2913)
hhmm_axis(ax, True, 9, 20, right=2512)
ax.set_ylim(0, 10)
ax.set_yticks(range(0, 11, 2))
for v in range(1, 10):
    if v % 2 == 0:
        ax.axhline(v, color='black', lw=2.2, zorder=1)
    else:
        ax.axhline(v, color='black', lw=0.7, ls=DOT, zorder=1)
for v in range(0, 2401, 100):
    ax.axvline(v, color='black', lw=0.7, ls=DOT, zorder=1)
t, v = xy(RAIN, 100)
ax.plot(t, v, color='black', lw=2.5, zorder=3, clip_on=False)
box(173, 2503, 463, 2560, shadow=False, border=False)
box(471, 2503, 875, 2547, shadow=False, border=False)
ftext(314, 2519, TITLE, size=12, weight='bold')
ftext(314, 2542, 'Rainfall (TBR)', size=12, weight='bold')
ftext(673, 2532, 'Corrected to equivalent of the standard gauge', size=12, weight='bold')
ylab(109, 2710, 'Rainfall accumulation (mm)')
ftext(527, 2963, 'Time (GMT)', size=9)

# ---------------------------------------------------------------- 7. sunshine
frame(92, 3030, 946, 3498)
ax = add_ax(168, 3041, 939, 3451)
ax.set_xlim(2.39, 22.93)
ax.set_ylim(0, 150)
ax.set_yticks([0, 100])
ax.set_xticks(SUN_TICKS)
ax.tick_params(axis='x', length=0, pad=10, labelsize=12.5)
ax.tick_params(axis='y', length=0, pad=8, labelsize=8)
for s in ax.spines.values():
    s.set_linewidth(0.9)
for v in (50, 100):
    ax.axhline(v, color='#a0a0a0', lw=0.8, ls=DOT, zorder=1)
for v in SUN_TICKS:
    ax.axvline(v, color='black', lw=0.7, ls=(0, (3, 3)), zorder=1)
t, v = xy(SUNSHINE, 1 / 60)
ax.plot(t, v, color='black', lw=1.4, zorder=3)
box(365, 3035, 697, 3097, shadow=False, border=False)
box(381, 3097, 676, 3168, shadow=False, border=False)
ftext(529, 3049, 'Wokingham sunshine', size=12, weight='bold')
ftext(529, 3076, '14-May', size=16)
ftext(529, 3116, '2016', size=11)
ftext(529, 3141, 'Total 10.05 Hrs', size=16)
ylab(115, 3247, 'Sunshine (per cent per minute)')
ftext(553, 3493, 'Time (GMT)', size=9)

# ---------------------------------------------------------------- 8. wind direction
frame(59, 3561, 976, 4077)
ax = add_ax(141, 3579, 960, 4032)
ax.set_xlim(-0.82, 24.85)
ax.set_ylim(0, 360)
ax.set_yticks(range(0, 361, 30))
ax.set_xticks(HOUR_TICKS)
ax.tick_params(axis='x', length=0, pad=9, labelsize=8)
ax.tick_params(axis='y', length=0, pad=8, labelsize=8)
for s in ax.spines.values():
    s.set_linewidth(0.9)
for v in range(10, 360, 10):
    ax.axhline(v, color='black', lw=2.2 if v % 30 == 0 else 0.7, zorder=1)
for v in HOUR_TICKS:
    ax.axvline(v, color='black', lw=0.7, zorder=1)
t, v = xy(WIND_DIR)
ax.plot(t, v, ls='none', marker='D', ms=5, color='black', zorder=3, clip_on=False)
box(412, 3742, 702, 3794, shadow=False, border=False)
ftext(557, 3758, 'Wokingham,  14 May 2016', size=12.5)
ftext(557, 3779, '5 minute mean wind direction', size=9)
ylab(92, 3805, 'Direction, degrees true')
ftext(550, 4067, 'Time (GMT)', size=9.5)

# ---------------------------------------------------------------- 9. wind speed
frame(59, 4109, 976, 4606)
ax = add_ax(117, 4152, 970, 4534)
ax.set_xlim(-0.75, 25.35)
ax.set_ylim(0, 50)
ax.set_yticks(range(0, 51, 10))
ax.set_xticks(HOUR_TICKS[0:24:2], SPEED_LABELS[0::2])
ax.set_xticks(HOUR_TICKS[1:24:2], SPEED_LABELS[1::2], minor=True)
ax.tick_params(axis='x', which='major', length=0, pad=9, labelsize=8.5)
ax.tick_params(axis='x', which='minor', length=0, pad=20, labelsize=8.5)
ax.tick_params(axis='y', length=0, pad=8, labelsize=9)
for s in ax.spines.values():
    s.set_linewidth(0.9)
for v in range(5, 50, 5):
    ax.axhline(v, color='black', lw=0.7, ls=DOT, zorder=1)
for v in range(0, 26):
    ax.axvline(v, color='black', lw=0.7, ls=DOT, zorder=1)
gust_t = np.arange(len(WIND_GUST)) / 10
ax.plot(gust_t, WIND_GUST, color='#404040', lw=0.7, zorder=2)
t, v = xy(WIND_MEAN)
ax.plot(t, v, color='black', lw=1.5, zorder=3)
t, v = xy(WIND_X10)
ax.plot(t, v, ls='none', marker='D', ms=5.5, mfc='#c8c8c8', mec='#505050', mew=0.7, zorder=4)
ftext(288, 4131, 'Wokingham,  14 May 2016', size=12.5, weight='bold')
ftext(596, 4122, 'Wind speed, 10 min mean / max gust', size=9.5)
ftext(596, 4139, 'Speeds below 4 kt shown at x10 scale', size=9.5)
box(750, 4115, 967, 4141)
fline(781, 795, 4129, color='black', lw=2)
ftext(801, 4128, 'Speed x 1', size=7, ha='left')
fig.add_artist(Line2D([873 / W], [1 - 4128 / H], transform=fig.transFigure, ls='none',
                      marker='D', ms=5, mfc='#c8c8c8', mec='#505050', mew=0.7, zorder=6))
ftext(886, 4128, 'Speed / 10', size=7, ha='left')
ylab(72, 4343, 'Speed (knots)', size=8.5)
ftext(541, 4584, 'Time (GMT)', size=10)

fig.savefig('out.png', dpi=100, facecolor='white')
print('saved out.png')
